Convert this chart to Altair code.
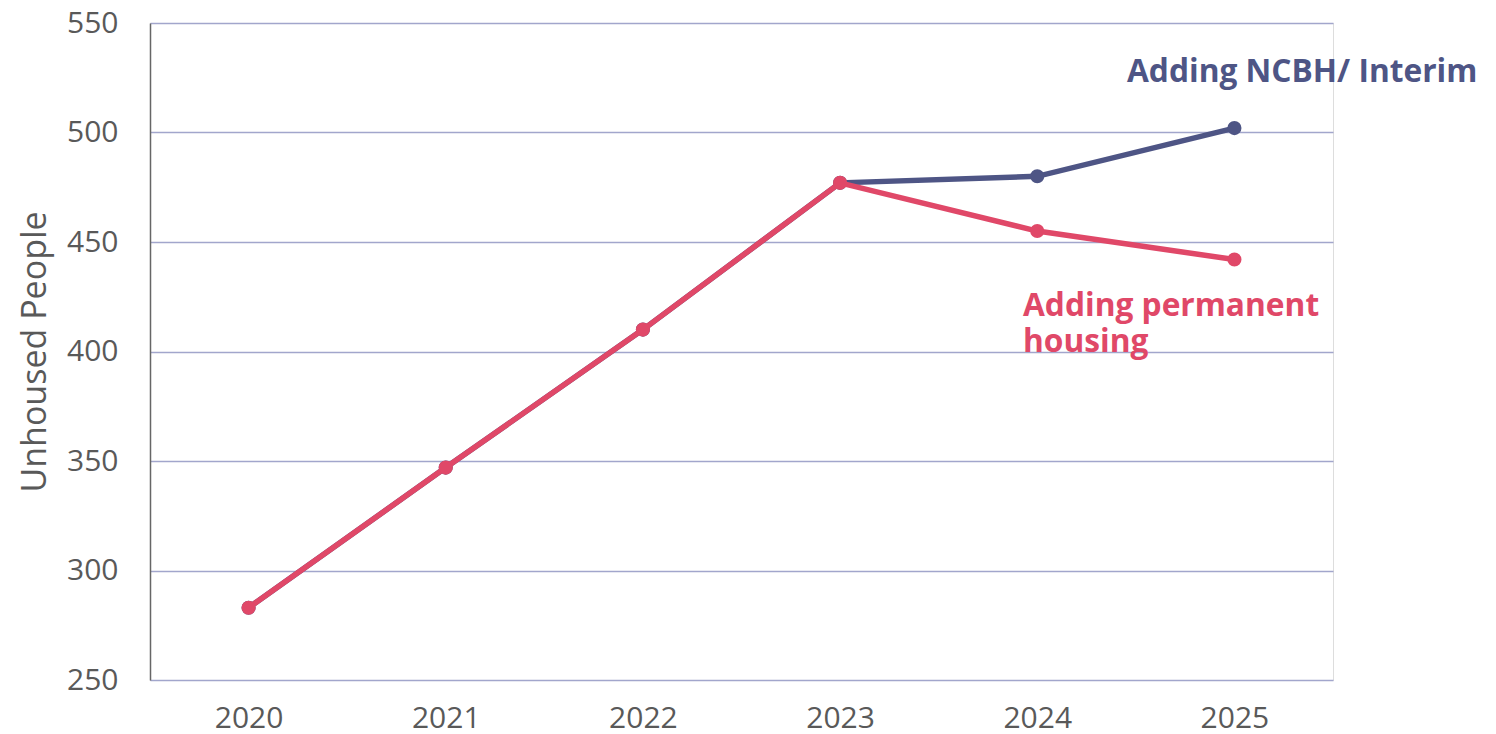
import altair as alt
import pandas as pd

years = ["2020", "2021", "2022", "2023", "2024", "2025"]
interim = [283, 347, 410, 477, 480, 502]
permanent = [283, 347, 410, 477, 455, 442]
label_interim = ["Adding NCBH/ Interim"]
label_permanent = ["Adding permanent", "housing"]

BLUE = "#4E5585"
PINK = "#E04868"
GRID = "#A2A6CC"
TXT = "#595959"
FONT = "Open Sans"

df_i = pd.DataFrame({"year": years, "value": interim})
df_p = pd.DataFrame({"year": years, "value": permanent})

x = alt.X("year:O", scale=alt.Scale(type="point", padding=0.5),
          axis=alt.Axis(title=None, labelAngle=0, ticks=False, domain=False,
                        labelFontSize=30, labelColor=TXT, labelPadding=23, labelFont=FONT))
y = alt.Y("value:Q", scale=alt.Scale(domain=[250, 550], nice=False, zero=False),
          axis=alt.Axis(title="Unhoused People", values=[250, 300, 350, 400, 450, 500, 550],
                        ticks=False, domain=True, domainColor="#666666", domainWidth=1.5,
                        grid=True, gridColor=GRID, gridWidth=1.5,
                        labelFontSize=30, labelColor=TXT, labelPadding=32, labelFont=FONT,
                        titleFontSize=34, titleColor=TXT, titleFontWeight="normal",
                        titleFont=FONT, titlePadding=14))

line_i = alt.Chart(df_i).mark_line(color=BLUE, strokeWidth=5.5).encode(x=x, y=y)
pt_i = alt.Chart(df_i).mark_point(color=BLUE, filled=True, size=200, opacity=1).encode(x=x, y=y)
line_p = alt.Chart(df_p).mark_line(color=PINK, strokeWidth=5.5).encode(x=x, y=y)
pt_p = alt.Chart(df_p).mark_point(color=PINK, filled=True, size=200, opacity=1).encode(x=x, y=y)

t1 = alt.Chart(pd.DataFrame({"t": label_interim})).mark_text(
    align="left", baseline="alphabetic", font=FONT, fontWeight="bold", fontSize=31.7, color=BLUE
).encode(text="t:N", x=alt.value(977), y=alt.value(59))

t2 = alt.Chart(pd.DataFrame({"t": ["\n".join(label_permanent)]})).mark_text(
    align="left", baseline="alphabetic", font=FONT, fontWeight="bold", fontSize=31.7, color=PINK,
    lineBreak="\n", lineHeight=36
).encode(text="t:N", x=alt.value(873), y=alt.value(293))

chart = alt.layer(line_i, pt_i, line_p, pt_p, t1, t2).properties(
    width=1183, height=657,
    autosize=alt.AutoSizeParams(type="none"),
    padding={"left": 142, "top": 15, "right": 155, "bottom": 58},
).configure_view(stroke=None).configure(background="white")

chart.save("out.html", embed_options={"renderer": "svg", "actions": False})
